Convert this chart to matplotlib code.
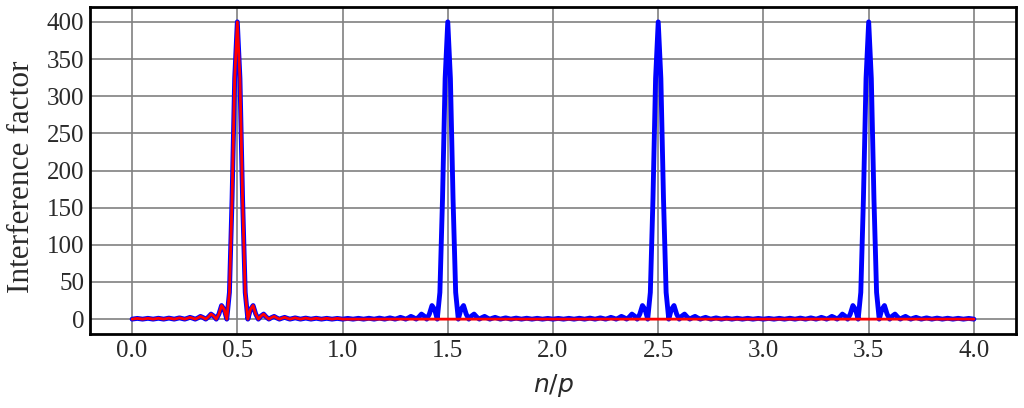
import numpy as np
import matplotlib
matplotlib.use("Agg")
import matplotlib.pyplot as plt

# samples every 0.0125 in n/p
x = np.linspace(0.0, 4.0, 321)

# one block per period (0-1, 1-2, 2-3, 3-4), peak in the middle of each
blue_0 = [0, 0.5, 1.0, 0.5, 0, 0.5, 1.1, 0.6, 0, 0.6, 1.2, 0.6, 0, 0.7, 1.4, 0.7,
          0, 0.8, 1.7, 0.9, 0, 1.1, 2.4, 1.3, 0, 1.6, 3.7, 2.1, 0, 2.9, 6.8, 4.2,
          0, 6.8, 18.3, 13.1, 0, 36, 162, 324, 400, 324, 162, 36, 0, 13.1, 18.3, 6.8,
          0, 4.2, 6.8, 2.9, 0, 2.1, 3.7, 1.6, 0, 1.3, 2.4, 1.1, 0, 0.9, 1.7, 0.8,
          0, 0.7, 1.4, 0.7, 0, 0.6, 1.2, 0.6, 0, 0.6, 1.1, 0.5, 0, 0.5, 1.0, 0.5]
blue_1 = [0, 0.5, 1.0, 0.5, 0, 0.5, 1.1, 0.6, 0, 0.6, 1.2, 0.6, 0, 0.7, 1.4, 0.7,
          0, 0.8, 1.7, 0.9, 0, 1.1, 2.4, 1.3, 0, 1.6, 3.7, 2.1, 0, 2.9, 6.8, 4.2,
          0, 6.8, 18.3, 13.1, 0, 36, 162, 324, 400, 324, 162, 36, 0, 13.1, 18.3, 6.8,
          0, 4.2, 6.8, 2.9, 0, 2.1, 3.7, 1.6, 0, 1.3, 2.4, 1.1, 0, 0.9, 1.7, 0.8,
          0, 0.7, 1.4, 0.7, 0, 0.6, 1.2, 0.6, 0, 0.6, 1.1, 0.5, 0, 0.5, 1.0, 0.5]
blue_2 = [0, 0.5, 1.0, 0.5, 0, 0.5, 1.1, 0.6, 0, 0.6, 1.2, 0.6, 0, 0.7, 1.4, 0.7,
          0, 0.8, 1.7, 0.9, 0, 1.1, 2.4, 1.3, 0, 1.6, 3.7, 2.1, 0, 2.9, 6.8, 4.2,
          0, 6.8, 18.3, 13.1, 0, 36, 162, 324, 400, 324, 162, 36, 0, 13.1, 18.3, 6.8,
          0, 4.2, 6.8, 2.9, 0, 2.1, 3.7, 1.6, 0, 1.3, 2.4, 1.1, 0, 0.9, 1.7, 0.8,
          0, 0.7, 1.4, 0.7, 0, 0.6, 1.2, 0.6, 0, 0.6, 1.1, 0.5, 0, 0.5, 1.0, 0.5]
blue_3 = [0, 0.5, 1.0, 0.5, 0, 0.5, 1.1, 0.6, 0, 0.6, 1.2, 0.6, 0, 0.7, 1.4, 0.7,
          0, 0.8, 1.7, 0.9, 0, 1.1, 2.4, 1.3, 0, 1.6, 3.7, 2.1, 0, 2.9, 6.8, 4.2,
          0, 6.8, 18.3, 13.1, 0, 36, 162, 324, 400, 324, 162, 36, 0, 13.1, 18.3, 6.8,
          0, 4.2, 6.8, 2.9, 0, 2.1, 3.7, 1.6, 0, 1.3, 2.4, 1.1, 0, 0.9, 1.7, 0.8,
          0, 0.7, 1.4, 0.7, 0, 0.6, 1.2, 0.6, 0, 0.6, 1.1, 0.5, 0, 0.5, 1.0, 0.5]
blue_end = [0]

# red curve: follows the first period, flat at zero afterwards
red_first = blue_0 + [0]
red_flat_x = [1.0, 4.0]
red_flat_y = [0, 0]

xticks = [0.0, 0.5, 1.0, 1.5, 2.0, 2.5, 3.0, 3.5, 4.0]
yticks = [0, 50, 100, 150, 200, 250, 300, 350, 400]

blue_y = np.array(blue_0 + blue_1 + blue_2 + blue_3 + blue_end)
red_x = np.concatenate([x[:81], red_flat_x])
red_y = np.array(red_first + red_flat_y)

fig = plt.figure(figsize=(10.24, 4.08), dpi=100)
ax = fig.add_axes([90 / 1024, 1 - 334 / 408, 926 / 1024, 327 / 408])

ax.plot(x, blue_y, color="#0000ff", lw=3.5, zorder=3,
        solid_joinstyle="round", solid_capstyle="round")
ax.plot(red_x, red_y, color="#ff0000", lw=2.0, zorder=4,
        solid_joinstyle="round", solid_capstyle="round")

ax.set_xlim(-0.2, 4.2)
ax.set_ylim(-20, 420)
ax.set_xticks(xticks)
ax.set_xticklabels([f"{t:.1f}" for t in xticks])
ax.set_yticks(yticks)
ax.grid(True, color="#808080", lw=1.2)
ax.set_axisbelow(True)
ax.tick_params(length=0, pad=4)
for lab in ax.get_xticklabels() + ax.get_yticklabels():
    lab.set_fontfamily("Liberation Serif")
    lab.set_fontsize(18)
    lab.set_color("#2a2a2a")
for s in ax.spines.values():
    s.set_linewidth(2)
    s.set_color("black")

ax.set_ylabel("Interference factor", fontfamily="Liberation Serif", fontsize=22.5,
              color="#2a2a2a")
ax.yaxis.set_label_coords(-0.058, 0.48)
ax.set_xlabel("$n/p$", fontsize=18, color="#2a2a2a")
ax.xaxis.set_label_coords(0.5, -0.115)

fig.savefig("out.png", dpi=100)
